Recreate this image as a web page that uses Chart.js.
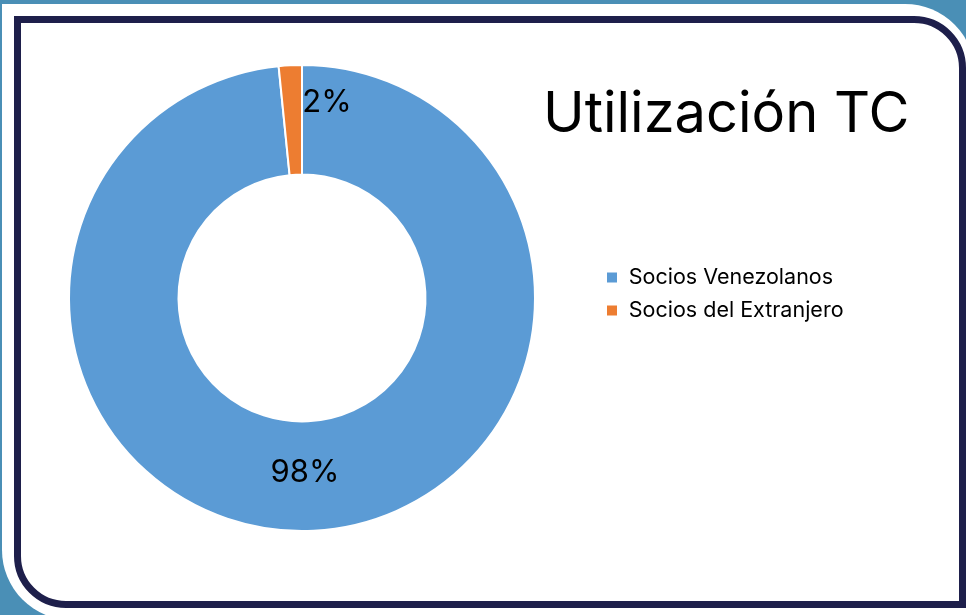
<!DOCTYPE html>
<html>
<head>
<meta charset="utf-8">
<script src="https://cdn.jsdelivr.net/npm/chart.js@4"></script>
<style>
  html, body { margin: 0; padding: 0; }
  body {
    width: 966px; height: 615px; overflow: hidden; position: relative;
    background: #4a8fb6;
    font-family: 'Inter', 'Lato', sans-serif;
  }
  .outer {
    position: absolute; left: 2px; top: 4px; width: 973px; height: 616px;
    background: #ffffff; border-radius: 0 70px 0 70px;
  }
  .frame {
    position: absolute; left: 14px; top: 16px; width: 952px; height: 592px;
    box-sizing: border-box; border: 7px solid #1e1f4b;
    border-radius: 0 52px 0 52px; background: #ffffff;
  }
  .chart-box { position: absolute; left: 0; top: 0; width: 966px; height: 615px; }
  .title {
    position: absolute; left: 543px; top: 78px; font-size: 56px;
    color: #000; white-space: nowrap;
  }
</style>
</head>
<body>
<div class="outer"></div>
<div class="frame"></div>
<div class="title" id="title">Utilización TC</div>
<div class="chart-box"><canvas id="donutChart"></canvas></div>
<script>
// Chart data
const categories = ['Socios Venezolanos', 'Socios del Extranjero'];
const shares = [98.4, 1.6];
const sliceColors = ['#5b9bd5', '#ed7d31'];

// where the percentage labels sit, relative to the middle of each ring slice
const labelOffsets = [[-6, -3], [34, -17]];
const LEGEND_BOX_X = 606;
const LEGEND_NUDGE_Y = -4;

// Draws the "98%" / "2%" labels on the ring
const sliceLabels = {
    id: 'sliceLabels',
    afterDatasetsDraw(chart) {
        const ctx = chart.ctx;
        const meta = chart.getDatasetMeta(0);
        ctx.save();
        ctx.font = '31px Inter';
        ctx.fillStyle = '#000000';
        ctx.textAlign = 'center';
        ctx.textBaseline = 'middle';
        meta.data.forEach((arc, i) => {
            const p = arc.tooltipPosition();
            ctx.fillText(Math.round(shares[i]) + '%', p.x + labelOffsets[i][0], p.y + labelOffsets[i][1]);
        });
        ctx.restore();
    }
};

// Legend sits a touch above the ring's centre in the reference
const legendNudge = {
    id: 'legendNudge',
    afterLayout(chart) {
        chart.legend.top += LEGEND_NUDGE_Y;
        chart.legend.bottom += LEGEND_NUDGE_Y;
    }
};

const ctx = document.getElementById('donutChart').getContext('2d');
const chart = new Chart(ctx, {
    type: 'doughnut',
    data: {
        labels: categories,
        datasets: [{
            data: shares,
            backgroundColor: sliceColors,
            borderColor: '#ffffff',
            borderWidth: 2
        }]
    },
    options: {
        responsive: true,
        maintainAspectRatio: false,
        animation: false,
        cutout: '53%',
        layout: { padding: { top: 64, bottom: 83, left: 7, right: 100 } },
        plugins: {
            legend: {
                display: true,
                position: 'right',
                align: 'center',
                labels: {
                    boxWidth: 12,
                    boxHeight: 12,
                    padding: 11.5,
                    color: '#000000',
                    font: { family: 'Inter', size: 21.5 }
                }
            },
            tooltip: { enabled: false },
            title: { display: false }
        }
    },
    plugins: [sliceLabels, legendNudge]
});

// Second pass: push the legend so its boxes start where the reference has them
const labelPad = chart.options.plugins.legend.labels.padding;
const legendW = chart.legend.width;
const chartRight = LEGEND_BOX_X - labelPad;
chart.options.layout.padding.left = 2 * 302 - chartRight;
chart.options.layout.padding.right = 966 - chartRight - legendW;
chart.update();
</script>
</body>
</html>
